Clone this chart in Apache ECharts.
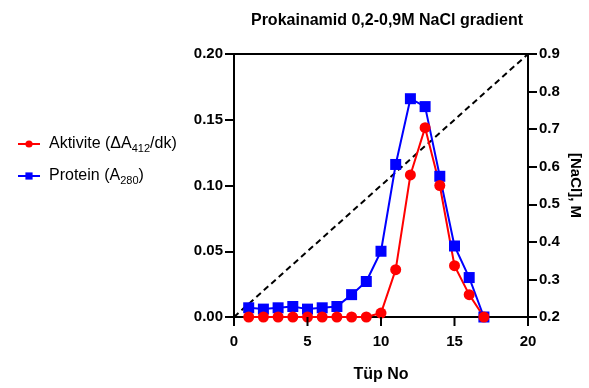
<!DOCTYPE html>
<html>
<head>
<meta charset="utf-8">
<script src="https://cdn.jsdelivr.net/npm/echarts@6/dist/echarts.min.js"></script>
<style>
  html, body { margin: 0; padding: 0; background: #fff; }
  #chart { width: 589px; height: 388px; }
</style>
</head>
<body>
<div id="chart"></div>
<script>
// tüp numaraları
const tubes = [1, 2, 3, 4, 5, 6, 7, 8, 9, 10, 11, 12, 13, 14, 15, 16, 17]
// Aktivite (ΔA412/dk)
const activity = [0, 0, 0, 0, 0, 0, 0, 0, 0, 0.003, 0.036, 0.108, 0.144, 0.100, 0.039, 0.017, 0]
// Protein (A280)
const protein = [0.007, 0.006, 0.007, 0.008, 0.006, 0.007, 0.008, 0.017, 0.027, 0.050, 0.116, 0.166, 0.160, 0.107, 0.054, 0.030, 0.000]
// NaCl gradyanı
const gradientX = [0, 20]
const gradientY = [0.2, 0.9]
// x ekseni tik değerleri
const xTicks = [0, 5, 10, 15, 20]

const font = 'Arial, "Liberation Sans", sans-serif'
const pair = (xs, ys) => xs.map((x, i) => [x, ys[i]])

const chart = echarts.init(document.getElementById('chart'))

const tick = () => ({ show: true, length: 9, lineStyle: { color: '#000', width: 2 } })
const labelStyle = { color: '#000', fontWeight: 'bold', fontSize: 15, fontFamily: font, margin: 11 }

chart.setOption({
    animation: false,
    title: {
        text: 'Prokainamid 0,2-0,9M NaCl gradient',
        left: 382,
        textAlign: 'center',
        top: 8,
        textStyle: { color: '#000', fontWeight: 'bold', fontSize: 16, fontFamily: font }
    },
    grid: {
        left: 234, right: 61, top: 54, bottom: 71,
        show: true, borderColor: '#000', borderWidth: 2
    },
    legend: {
        orient: 'vertical',
        left: 12,
        top: 131,
        itemWidth: 22,
        itemHeight: 9,
        itemGap: 14,
        data: ['Aktivite', 'Protein'],
        formatter: (name) => name === 'Aktivite'
            ? '{a|Aktivite (ΔA}{s|412}{a|/dk)}'
            : '{a|Protein (A}{s|280}{a|)}',
        textStyle: {
            padding: [0, 0, 0, 4],
            rich: {
                a: { fontSize: 16, color: '#000', fontFamily: font },
                s: { fontSize: 11, color: '#000', fontFamily: font, padding: [9, 0, 0, 0] }
            }
        }
    },
    xAxis: {
        type: 'value',
        position: 'bottom',
        min: 0, max: 20, interval: 5,
        axisLine: { show: true, lineStyle: { color: '#000', width: 2 } },
        axisTick: { show: false },
        splitLine: { show: false },
        axisLabel: { ...labelStyle, margin: 17 },
        name: 'Tüp No',
        nameLocation: 'middle',
        nameGap: 50,
        nameTextStyle: { color: '#000', fontWeight: 'bold', fontSize: 16, fontFamily: font }
    },
    yAxis: [{
        type: 'value',
        position: 'left',
        min: 0, max: 0.2, interval: 0.05,
        axisLine: { show: true, onZero: false, lineStyle: { color: '#000', width: 2 } },
        axisTick: tick(),
        splitLine: { show: false },
        axisLabel: { ...labelStyle, formatter: (v) => v.toFixed(2) }
    }, {
        type: 'value',
        position: 'right',
        min: 0.2, max: 0.9, interval: 0.1,
        axisLine: { show: true, onZero: false, lineStyle: { color: '#000', width: 2 } },
        axisTick: tick(),
        splitLine: { show: false },
        axisLabel: { ...labelStyle, formatter: (v) => v.toFixed(1) },
        name: '[NaCl], M',
        nameLocation: 'middle',
        nameRotate: -90,
        nameGap: 40,
        nameTextStyle: { color: '#000', fontWeight: 'bold', fontSize: 15, fontFamily: font }
    }],
    series: [{
        name: 'Gradient',
        type: 'line',
        yAxisIndex: 1,
        data: pair(gradientX, gradientY),
        symbol: 'none',
        lineStyle: { color: '#000', width: 2, type: [6, 4] }
    }, {
        name: 'Protein',
        type: 'line',
        data: pair(tubes, protein),
        symbol: 'rect',
        symbolSize: 11,
        itemStyle: { color: '#0000ff' },
        lineStyle: { color: '#0000ff', width: 2 }
    }, {
        name: 'Aktivite',
        type: 'line',
        data: pair(tubes, activity),
        symbol: 'circle',
        symbolSize: 11,
        itemStyle: { color: '#ff0000' },
        lineStyle: { color: '#ff0000', width: 2 }
    }]
})

// x ekseni tikleri: eksenin kendi ölçeğinden piksel konumu alınır
chart.setOption({
    graphic: xTicks.map((v) => {
        const [px, py] = chart.convertToPixel({ xAxisIndex: 0, yAxisIndex: 0 }, [v, 0])
        return {
            type: 'line',
            shape: { x1: px, y1: py, x2: px, y2: py + 9 },
            style: { stroke: '#000', lineWidth: 2 },
            z: 10
        }
    })
})
</script>
</body>
</html>
